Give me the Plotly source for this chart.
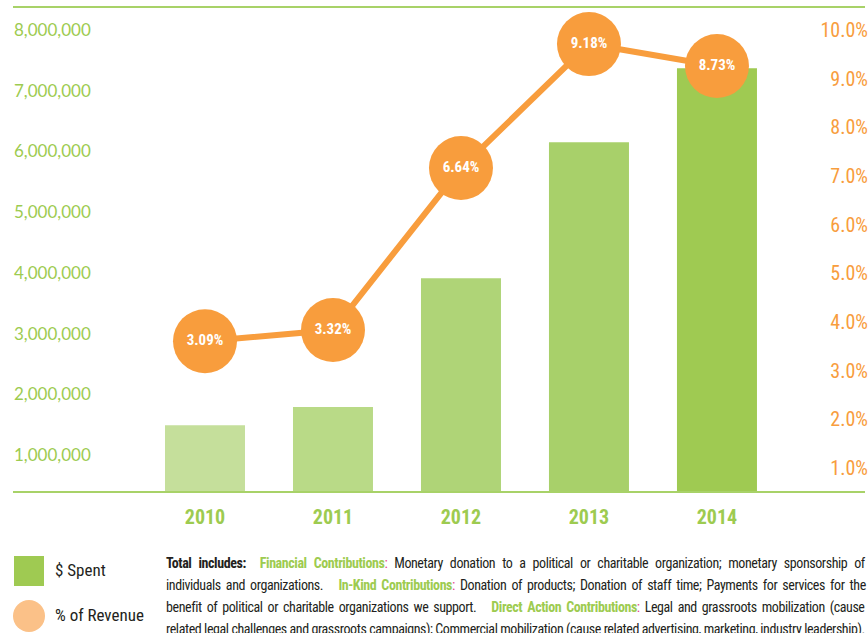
import plotly.graph_objects as go

# ---- data ----
years = ["2010", "2011", "2012", "2013", "2014"]
spent = [1490000, 1790000, 3910000, 6150000, 7370000]
pct_revenue = [3.09, 3.32, 6.64, 9.18, 8.73]
pct_labels = ["3.09%", "3.32%", "6.64%", "9.18%", "8.73%"]
left_ticks = [1000000, 2000000, 3000000, 4000000, 5000000, 6000000, 7000000, 8000000]
right_ticks = [1, 2, 3, 4, 5, 6, 7, 8, 9, 10]

bar_colors = ["#C5DF9B", "#B9DA87", "#AFD477", "#A8D06A", "#9FCA52"]
GREEN = "#9DCB50"
LINE_GREEN = "#A8D268"
ORANGE = "#F89D3D"
LIGHT_ORANGE = "#FBC188"
DARK = "#231F20"
PINK = "#E8418A"
NARROW = "Roboto Condensed, Noto Sans Condensed, DejaVu Sans Condensed, DejaVu Sans, sans-serif"


def cond(s, extra=""):
    return f"<span style='font-stretch:condensed;{extra}'>{s}</span>"


W, H = 868, 633
PLOT_L, PLOT_R, PLOT_T, PLOT_B = 13, 868, 7, 492
L, R, T, B = PLOT_L, W - PLOT_R, PLOT_T, H - PLOT_B
PW, PH = W - L - R, H - T - B


def px(x):
    return (x - PLOT_L) / PW


def py(y):
    return (PLOT_B - y) / PH


fig = go.Figure()
fig.add_trace(go.Bar(
    x=years, y=spent, marker=dict(color=bar_colors, line=dict(width=0)),
    width=0.625, yaxis="y", hoverinfo="skip", showlegend=False,
))
fig.add_trace(go.Scatter(
    x=years, y=pct_revenue, yaxis="y3", mode="lines+markers+text",
    line=dict(color=ORANGE, width=6),
    marker=dict(size=64, color=ORANGE, line=dict(width=0)),
    text=[cond(t) for t in pct_labels], textposition="middle center",
    textfont=dict(family=NARROW, size=15, color="white", weight="bold"),
    hoverinfo="skip", showlegend=False,
))
fig.add_trace(go.Scatter(x=[years[0]], y=[None], yaxis="y2", showlegend=False, hoverinfo="skip"))

fig.update_layout(
    width=W, height=H, margin=dict(l=L, r=R, t=T, b=B, autoexpand=False),
    paper_bgcolor="white", plot_bgcolor="white",
    xaxis=dict(
        type="category", range=[-1.5, 5.18],
        showline=False, showgrid=False, zeroline=False,
        ticks="outside", ticklen=7, tickcolor="rgba(0,0,0,0)",
        tickvals=years, ticktext=[cond(y) for y in years],
        tickfont=dict(family=NARROW, size=20, color=GREEN, weight="bold"),
    ),
    yaxis=dict(
        range=[390000, 8380000], tickvals=left_ticks,
        ticktext=[f"{v:,}" for v in left_ticks],
        side="right", anchor="free", position=0, ticks="",
        showgrid=False, zeroline=False, showline=False,
        tickfont=dict(family="Lato, Noto Sans, sans-serif", size=17, color=GREEN),
    ),
    yaxis2=dict(
        range=[0.507, 10.47], overlaying="y", side="left", anchor="free", position=1, ticks="",
        tickvals=right_ticks, ticktext=[cond(f"{v:.1f}%") for v in right_ticks],
        showgrid=False, zeroline=False, showline=False,
        tickfont=dict(family=NARROW, size=20, color=ORANGE),
    ),
    yaxis3=dict(range=[0, 9.94], overlaying="y", visible=False),
)

# top and bottom rules
for yy in (PLOT_T, PLOT_B):
    fig.add_shape(type="line", xref="paper", yref="paper", x0=px(13), x1=px(865),
                  y0=py(yy), y1=py(yy), line=dict(color=LINE_GREEN, width=2))

# ---- legend (manual) ----
fig.add_shape(type="rect", xref="paper", yref="paper",
              x0=px(14), x1=px(44), y0=py(586), y1=py(556),
              fillcolor="#9FCA52", line=dict(width=0))
fig.add_shape(type="circle", xref="paper", yref="paper",
              x0=px(13), x1=px(45), y0=py(632), y1=py(600),
              fillcolor=LIGHT_ORANGE, line=dict(width=0))
fig.add_annotation(xref="paper", yref="paper", x=px(53), y=py(570), xanchor="left", yanchor="middle",
                   text=cond("$ Spent"), showarrow=False,
                   font=dict(family=NARROW, size=17, color=DARK))
fig.add_annotation(xref="paper", yref="paper", x=px(53), y=py(615), xanchor="left", yanchor="middle",
                   text=cond("% of Revenue"), showarrow=False,
                   font=dict(family=NARROW, size=17, color=DARK))


# ---- footnote ----
def g(s):
    return f"<span style='color:{GREEN}'><b>{s}</b></span><span style='color:{PINK}'>:</span>"


lines = [
    "<b>Total includes:</b>&nbsp;&nbsp;" + g("Financial Contributions")
    + " Monetary donation to a political or charitable organization; monetary sponsorship of",
    "individuals and organizations.&nbsp;&nbsp;&nbsp;" + g("In-Kind Contributions")
    + " Donation of products; Donation of staff time; Payments for services for the",
    "benefit of political or charitable organizations we support.&nbsp;&nbsp;&nbsp;" + g("Direct Action Contributions")
    + " Legal and grassroots mobilization (cause",
    "related legal challenges and grassroots campaigns); Commercial mobilization (cause related advertising, marketing, industry leadership).",
]
word_sp = [4.2, 2.3, 2.2, 0]
line_y = [563, 585, 607, 629]
for t, ws, yy in zip(lines, word_sp, line_y):
    fig.add_annotation(xref="paper", yref="paper", x=px(164), y=py(yy), xanchor="left", yanchor="middle",
                       text=cond(t, f"letter-spacing:-0.42px;word-spacing:{ws}px"),
                       showarrow=False, align="left",
                       font=dict(family=NARROW, size=14, color=DARK))

fig.write_html(
    "out.html",
    config={"displayModeBar": False},
    post_script="document.body.style.margin='0';document.body.style.overflow='hidden';",
)
